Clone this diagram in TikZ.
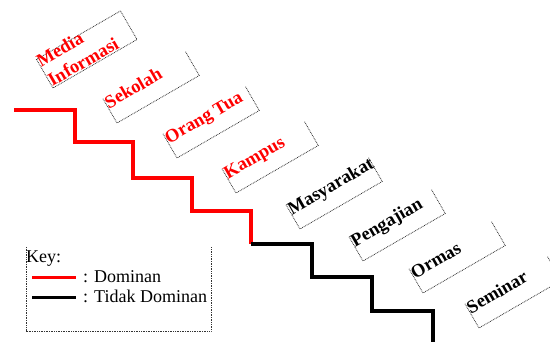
\documentclass[tikz,border=0pt]{standalone}
\usepackage{fontspec}
\setmainfont{Liberation Serif}
\usetikzlibrary{calc}
\begin{document}
\begin{tikzpicture}[x=1pt,y=-1pt,
  frame/.style={draw=none, rotate=30, anchor=south west, minimum width=95pt,
    minimum height=28pt, inner sep=0pt, outer sep=0pt},
  edge/.style={dash pattern=on 0.8pt off 0.9pt, line width=0.8pt, black!80},
  lbl/.style={rotate=30, anchor=base west, inner sep=0pt,
    font=\fontsize{18.5}{22}\selectfont\bfseries},
  dom/.style={red},
  ndom/.style={black},
  stair/.style={line width=3.2pt, line join=miter},
  key/.style={font=\fontsize{18}{20}\selectfont, inner sep=0pt, anchor=base west}]
\useasboundingbox (0,0) rectangle (550,342);
\clip (0,0) rectangle (550,342);

% ---- the staircase: dominant part in red, the rest in black
\coordinate (s0) at (14,110);
\coordinate (s1) at (75,110);  \coordinate (s2) at (75,142);
\coordinate (s3) at (133,142); \coordinate (s4) at (133,178);
\coordinate (s5) at (192,178); \coordinate (s6) at (192,211);
\coordinate (s7) at (251,211); \coordinate (s8) at (251,244);
\coordinate (s9) at (312,244); \coordinate (s10) at (312,277);
\coordinate (s11) at (372,277); \coordinate (s12) at (372,311);
\coordinate (s13) at (433,311); \coordinate (s14) at (433,346);
\draw[stair, red] (s0) -- (s1) -- (s2) -- (s3) -- (s4) -- (s5) -- (s6) -- (s7) -- (s8);
\draw[stair, black] (s8) -- (s9) -- (s10) -- (s11) -- (s12) -- (s13) -- (s14);

% ---- first step: two-line label in a closed frame
\node[frame, minimum width=97pt, minimum height=33pt] (b1) at (53,88) {};
\draw[edge] (b1.south west) -- (b1.north west) -- (b1.north east) -- (b1.south east) -- cycle;
\node[lbl, dom] (t1a) at ($(b1.south west)!24pt!(b1.north west)$) {Media};
\node[lbl, dom] (t1b) at ($(b1.south west)!1.5pt!(b1.north west)$) {Informasi};

% ---- remaining steps: frame open at the top
\foreach \n/\x/\y/\txt/\col in {
    2/117/123/Sekolah/dom,
    3/177/158/Orang Tua/dom,
    4/236/193/Kampus/dom,
    5/300/229/Masyarakat/ndom,
    6/363/261/Pengajian/ndom,
    7/423/293/Ormas/ndom,
    8/479/328/Seminar/ndom}{
  \node[frame] (b\n) at (\x,\y) {};
  \draw[edge] (b\n.north west) -- (b\n.south west) -- (b\n.south east) -- (b\n.north east);
  \node[lbl, \col] (t\n) at ($(b\n.south west)!16pt!(b\n.north west)$) {\txt};
}

% ---- key
\node[draw=none, anchor=north west, minimum width=185pt, minimum height=84pt,
  inner sep=0pt, outer sep=0pt] (legend) at (26,247) {};
\draw[edge] (legend.north west) -- (legend.south west) -- (legend.south east) -- (legend.north east);
\node[key] (keyhead) at (26,263) {Key:};
\coordinate (r0) at (32,278); \coordinate (r1) at (76,278);
\coordinate (k0) at (32,298); \coordinate (k1) at (76,298);
\draw[line width=3pt, red] (r0) -- (r1);
\draw[line width=3pt, black] (k0) -- (k1);
\node[key] (keydom) at (83,283) {: Dominan};
\node[key] (keyndom) at (83,303) {: Tidak Dominan};
\end{tikzpicture}
\end{document}
